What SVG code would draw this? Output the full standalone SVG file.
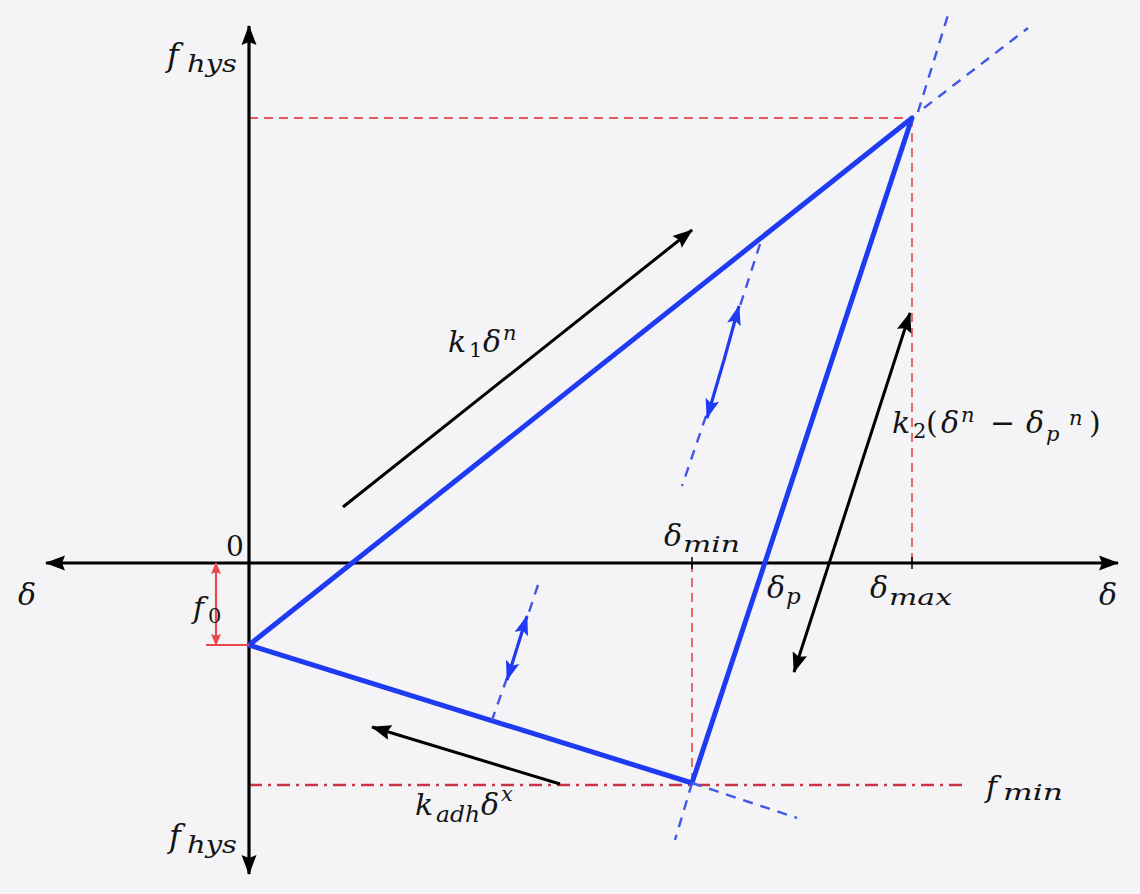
<svg xmlns="http://www.w3.org/2000/svg" width="1140" height="894" viewBox="0 0 1140 894">
<style>
.m{font-family:'DejaVu Serif',serif;font-style:italic;fill:#141414}
.u{font-family:'DejaVu Serif',serif;font-style:normal;fill:#141414}
.axis{stroke:#000;stroke-width:3.2;fill:none}
.blue{stroke:#1f3bf2;stroke-width:5;fill:none;stroke-linejoin:round;stroke-linecap:round}
.bdash{stroke:#4257e6;stroke-width:2.4;fill:none;stroke-dasharray:10 8}
.bsolid{stroke:#1f3bf2;stroke-width:3.2;fill:none}
.rdash{stroke:#e65c5c;stroke-width:1.8;fill:none;stroke-dasharray:9 6}
.dashdot{stroke:#c9344a;stroke-width:2.6;fill:none;stroke-dasharray:13 6 3 6}
.black{stroke:#000;stroke-width:3;fill:none}
.red{stroke:#e84a4a;stroke-width:2.2;fill:none}
</style>
<defs>
<marker id="ak" viewBox="-20 -8 22 16" refX="0" refY="0" markerWidth="22" markerHeight="16" markerUnits="userSpaceOnUse" orient="auto-start-reverse"><path d="M1,0 L-19,-7.5 L-16,0 L-19,7.5 Z" fill="#000"/></marker>
<marker id="ab" viewBox="-20 -8 22 16" refX="0" refY="0" markerWidth="22" markerHeight="16" markerUnits="userSpaceOnUse" orient="auto-start-reverse"><path d="M1,0 L-19,-7 L-15,0 L-19,7 Z" fill="#1f3bf2"/></marker>
<marker id="ar" viewBox="-12 -6 14 12" refX="0" refY="0" markerWidth="14" markerHeight="12" markerUnits="userSpaceOnUse" orient="auto-start-reverse"><path d="M1,0 L-11,-5 L-9,0 L-11,5 Z" fill="#e84a4a"/></marker>
</defs>
<rect width="1140" height="894" fill="#f4f4f6"/>
<g id="guides">
<path class="rdash" d="M249,118 H912"/>
<path class="rdash" d="M912,118 V563"/>
<path class="rdash" d="M692,563 V783"/>
<path class="dashdot" d="M249,785 H966"/>
</g>
<g id="axes">
<path class="axis" d="M249,563 H46" marker-end="url(#ak)"/>
<path class="axis" d="M249,563 H1118" marker-end="url(#ak)"/>
<path class="axis" d="M249,563 V26" marker-end="url(#ak)"/>
<path class="axis" d="M249,563 V874" marker-end="url(#ak)"/>
<path stroke="#000" stroke-width="1.5" d="M692,557 V569 M912,557 V569"/>
</g>
<g id="cycle">
<path class="blue" d="M249,645 L912,118 L692,783 Z"/>
</g>
<g id="connectors">
<path class="bdash" d="M918,112 L948,15"/>
<path class="bdash" d="M924,108 L1028,28"/>
<path class="bdash" d="M692,783 L797,818"/>
<path class="bdash" d="M692,783 L675,840"/>
<path class="bdash" d="M760,244 L740,306"/>
<path class="bdash" d="M706,416 L682,486"/>
<path class="bsolid" d="M724,360 L739,306" marker-end="url(#ab)"/>
<path class="bsolid" d="M724,360 L707,418" marker-end="url(#ab)"/>
<path class="bdash" d="M538,585 L528,615"/>
<path class="bdash" d="M507,678 L492,720"/>
<path class="bsolid" d="M517,648 L527,616" marker-end="url(#ab)"/>
<path class="bsolid" d="M517,648 L507,680" marker-end="url(#ab)"/>
<path class="black" d="M343,507 L692,230" marker-end="url(#ak)"/>
<path class="black" d="M910,313 L794,672" marker-start="url(#ak)" marker-end="url(#ak)"/>
<path class="black" d="M560,784 L372,727" marker-end="url(#ak)"/>
<path class="red" d="M216,563 V645" marker-start="url(#ar)" marker-end="url(#ar)"/>
<path class="red" d="M206,645 H249"/>
</g>
<g id="labels">
<text class="m"><tspan x="167" y="66" font-size="32">f</tspan><tspan x="187" y="72" font-size="24" textLength="50" lengthAdjust="spacingAndGlyphs">hys</tspan></text>
<text class="m"><tspan x="169" y="847" font-size="32">f</tspan><tspan x="187" y="853" font-size="24" textLength="50" lengthAdjust="spacingAndGlyphs">hys</tspan></text>
<text class="u" x="226" y="556" font-size="28">0</text>
<text class="m" x="18" y="605" font-size="30">δ</text>
<text class="m" x="1099" y="605" font-size="30">δ</text>
<text class="m"><tspan x="193" y="618" font-size="30">f</tspan><tspan class="u" x="208" y="623" font-size="21">0</tspan></text>
<text class="m"><tspan x="664" y="546" font-size="30">δ</tspan><tspan x="683" y="552" font-size="23" textLength="57" lengthAdjust="spacingAndGlyphs">min</tspan></text>
<text class="m"><tspan x="767" y="598" font-size="30">δ</tspan><tspan x="786" y="604" font-size="23">p</tspan></text>
<text class="m"><tspan x="870" y="598" font-size="30">δ</tspan><tspan x="889" y="605" font-size="23" textLength="63" lengthAdjust="spacingAndGlyphs">max</tspan></text>
<text class="m" font-size="30"><tspan x="892" y="433">k</tspan><tspan class="u" x="913" y="438" font-size="21">2</tspan><tspan class="u" x="926" y="433">(</tspan><tspan x="941" y="433">δ</tspan><tspan x="961" y="422" font-size="21">n</tspan><tspan class="u" x="990" y="433">−</tspan><tspan x="1026" y="433">δ</tspan><tspan x="1046" y="441" font-size="21">p</tspan><tspan x="1069" y="425" font-size="21">n</tspan><tspan class="u" x="1089" y="433">)</tspan></text>
<text class="m" font-size="30"><tspan x="448" y="352">k</tspan><tspan class="u" x="469" y="357" font-size="21">1</tspan><tspan x="483" y="352">δ</tspan><tspan x="503" y="340" font-size="21">n</tspan></text>
<text class="m" font-size="30"><tspan x="415" y="815">k</tspan><tspan x="436" y="822" font-size="23" textLength="44" lengthAdjust="spacingAndGlyphs">adh</tspan><tspan x="481" y="815">δ</tspan><tspan x="501" y="801" font-size="21">x</tspan></text>
<text class="m"><tspan x="986" y="797" font-size="30">f</tspan><tspan x="1003" y="800" font-size="23" textLength="60" lengthAdjust="spacingAndGlyphs">min</tspan></text>
</g>
</svg>
